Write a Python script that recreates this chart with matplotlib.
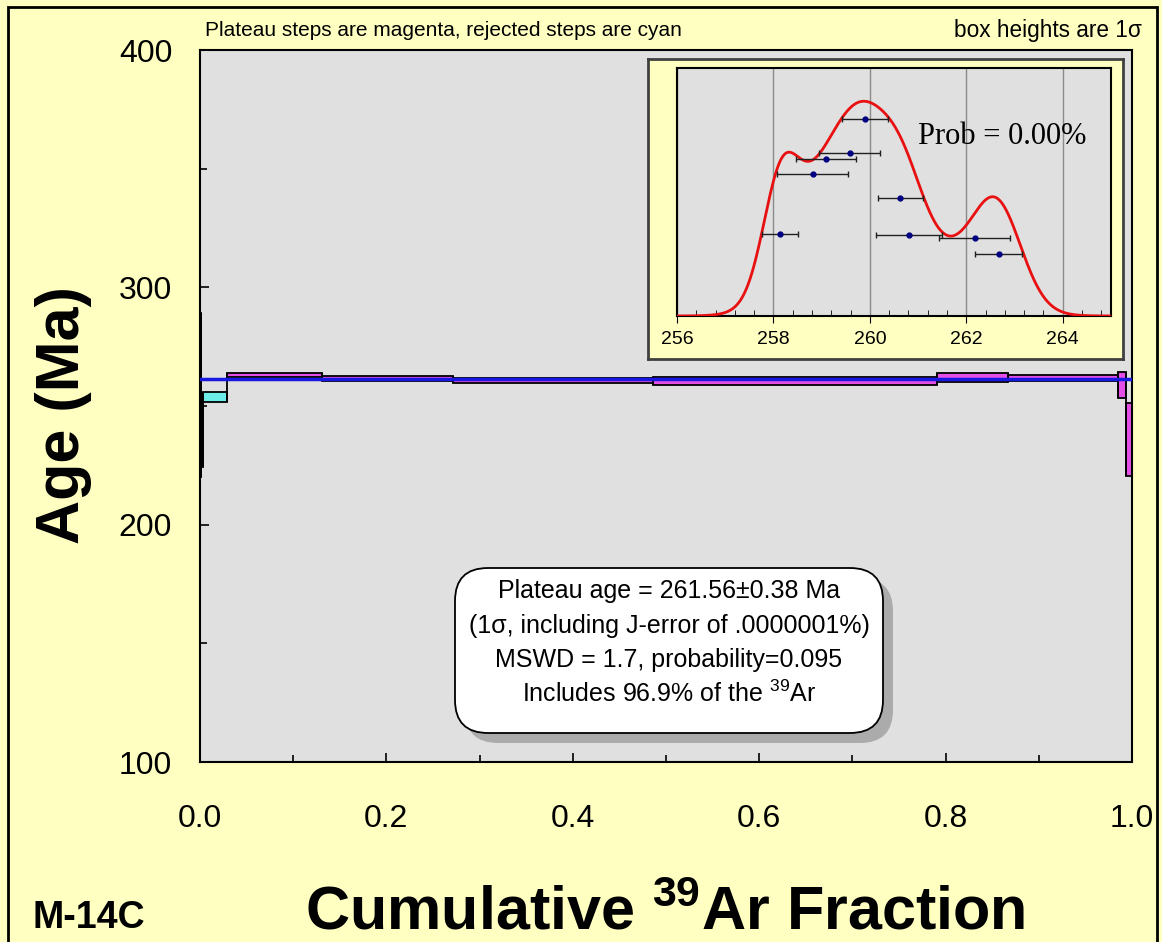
import numpy as np
import matplotlib
matplotlib.use("Agg")
import matplotlib.pyplot as plt
from matplotlib.patches import Rectangle, FancyBboxPatch
from matplotlib.ticker import MultipleLocator

plt.rcParams['font.family'] = ['Liberation Sans', 'DejaVu Sans']
plt.rcParams['mathtext.fontset'] = 'custom'
plt.rcParams['mathtext.rm'] = 'Liberation Sans'
plt.rcParams['mathtext.bf'] = 'Liberation Sans:bold'

# step heating data (cumulative 39Ar fraction edges, age, 1 sigma)
frac_edges = [0.0, 0.001, 0.003, 0.029, 0.131, 0.271, 0.486, 0.791, 0.867, 0.985, 0.994, 1.0]
step_age = [254.6, 238.0, 253.8, 262.9, 261.7, 260.8, 260.5, 262.0, 261.8, 258.9, 235.9]
step_err = [34.5, 13.7, 2.1, 0.85, 1.0, 1.2, 1.6, 1.8, 1.2, 5.5, 15.4]
in_plateau = [False, False, False, True, True, True, True, True, True, True, True]
plateau_age = 261.56

# probability plot (inset)
prob_age = [259.90, 259.58, 259.09, 258.81, 260.63, 258.14, 260.81, 262.17, 262.67]
prob_err = [0.48, 0.635, 0.63, 0.735, 0.465, 0.37, 0.69, 0.73, 0.485]
prob_ypos = [0.795, 0.656, 0.632, 0.573, 0.474, 0.329, 0.326, 0.315, 0.251]

xticks = [0.0, 0.2, 0.4, 0.6, 0.8, 1.0]
yticks = [100, 200, 300, 400]
inset_ticks = [256, 258, 260, 262, 264]

YELLOW = '#FFFFC2'
GRAY = '#E0E0E0'
MAGENTA = '#E64FE6'
CYAN = '#6DEDE8'

W, H = 1162, 942
fig = plt.figure(figsize=(W / 100, H / 100), dpi=100)
fig.patch.set_facecolor(YELLOW)


def fbox(x0, y0, x1, y1):
    # pixel box (top-left origin) -> figure fraction rect
    return [x0 / W, 1 - y1 / H, (x1 - x0) / W, (y1 - y0) / H]


ax = fig.add_axes(fbox(200, 50, 1132, 762))
ax.set_facecolor(GRAY)
ax.set_xlim(0, 1)
ax.set_ylim(100, 400)
ax.set_xticks(xticks)
ax.set_xticklabels(['%.1f' % v for v in xticks])
ax.set_yticks(yticks)
ax.xaxis.set_minor_locator(MultipleLocator(0.1))
ax.yaxis.set_minor_locator(MultipleLocator(50))
ax.tick_params(which='both', direction='in', top=False, right=False)
ax.tick_params(which='major', length=6.5, width=1.2)
ax.tick_params(which='minor', length=5, width=1.2)
ax.tick_params(axis='x', labelsize=23, pad=30)
ax.tick_params(axis='y', labelsize=23, pad=20)
for s in ax.spines.values():
    s.set_linewidth(1.5)

for i in range(len(step_age)):
    x0, x1 = frac_edges[i], frac_edges[i + 1]
    fc = MAGENTA if in_plateau[i] else CYAN
    ax.add_patch(Rectangle((x0, step_age[i] - step_err[i]), x1 - x0, 2 * step_err[i],
                           facecolor=fc, edgecolor='black', lw=1.3, zorder=2))
# connectors between steps
for i in range(len(step_age) - 1):
    lo = min(step_age[i] - step_err[i], step_age[i + 1] - step_err[i + 1])
    hi = max(step_age[i] + step_err[i], step_age[i + 1] + step_err[i + 1])
    ax.vlines(frac_edges[i + 1], lo, hi, color='black', lw=1.3, zorder=2)
ax.axhline(plateau_age, color='#1818E0', lw=2.5, zorder=3)

# result box
shadow = FancyBboxPatch((4.65, 9.42 - 7.43), 4.28, 1.65, boxstyle='round,pad=0,rounding_size=0.33',
                        transform=fig.dpi_scale_trans, facecolor='#ABABAB', edgecolor='none', zorder=2)
box = FancyBboxPatch((4.55, 9.42 - 7.33), 4.28, 1.65, boxstyle='round,pad=0,rounding_size=0.33',
                     transform=fig.dpi_scale_trans, facecolor='white', edgecolor='black', lw=1.3, zorder=2.1)
fig.add_artist(shadow)
fig.add_artist(box)
box_lines = ['Plateau age = 261.56\u00b10.38 Ma',
             '(1\u03c3, including J-error of .0000001%)',
             'MSWD = 1.7, probability=0.095',
             'Includes 96.9% of the $^{39}$Ar']
for k, (txt, yb) in enumerate(zip(box_lines, [598, 633, 667, 702])):
    t = fig.text(669 / W, 1 - yb / H, txt, ha='center', va='baseline', fontsize=18)
    t.set_zorder(2.5)

# labels
fig.text(205 / W, 1 - 36 / H, 'Plateau steps are magenta, rejected steps are cyan',
         ha='left', va='baseline', fontsize=15)
fig.text(1142 / W, 1 - 37 / H, 'box heights are 1\u03c3', ha='right', va='baseline', fontsize=16.3)
fig.text(63 / W, 1 - 415 / H, 'Age (Ma)', rotation=90, ha='center', va='center',
         fontsize=44, fontweight='bold')
fig.text(665 / W, 1 - 930 / H, r'Cumulative $^{\mathbf{39}}$Ar Fraction', ha='center', va='baseline',
         fontsize=44, fontweight='bold')
fig.text(89 / W, 1 - 928 / H, 'M-14C', ha='center', va='baseline', fontsize=27, fontweight='bold')

# inset probability plot
panel = fig.add_axes(fbox(648, 59, 1123, 359))
panel.set_zorder(4)
panel.set_facecolor(YELLOW)
panel.set_xticks([])
panel.set_yticks([])
for s in panel.spines.values():
    s.set_linewidth(2)
    s.set_color('#404040')

axi = fig.add_axes(fbox(677, 68, 1111, 316))
axi.set_zorder(5)
axi.set_facecolor(GRAY)
xs = np.linspace(256, 265, 900)
dens = np.zeros_like(xs)
for a, e in zip(prob_age, prob_err):
    dens += np.exp(-0.5 * ((xs - a) / e) ** 2) / e
ymax = dens.max() / 0.866
axi.set_xlim(256, 265)
axi.set_ylim(0, ymax)
axi.set_xticks(inset_ticks)
axi.xaxis.set_minor_locator(MultipleLocator(0.4))
axi.set_yticks([])
axi.grid(axis='x', which='major', color='#8A8A8A', lw=1)
axi.set_axisbelow(True)
axi.tick_params(axis='x', which='major', direction='out', length=5, labelsize=14, pad=6)
axi.tick_params(axis='x', which='minor', direction='in', length=4)
for s in axi.spines.values():
    s.set_linewidth(1.5)
axi.plot(xs, dens, color='#E81010', lw=2, zorder=3)
axi.errorbar(prob_age, np.array(prob_ypos) * ymax, xerr=prob_err, fmt='o', ms=3.5,
             color='#000080', ecolor='#202020', elinewidth=1, capsize=2.5, capthick=1, zorder=4)
axi.text(1002 / W, 1 - 144 / H, 'Prob = 0.00%', transform=fig.transFigure, ha='center',
         va='baseline', fontsize=22, family=['Liberation Serif', 'DejaVu Serif'], zorder=6)

# outer frame
fig.add_artist(Rectangle((0.08, -0.1), 11.49, 9.45, transform=fig.dpi_scale_trans,
                         fill=False, edgecolor='black', lw=2, zorder=10))

fig.savefig('out.png', dpi=100, facecolor=fig.get_facecolor())
